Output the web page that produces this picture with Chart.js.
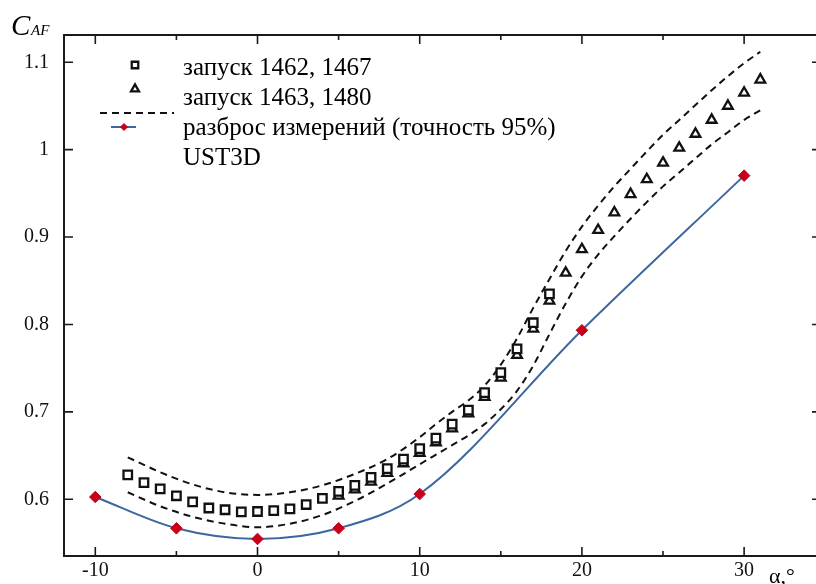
<!DOCTYPE html>
<html><head><meta charset="utf-8">
<script src="https://cdn.jsdelivr.net/npm/chart.js@4.4.1/dist/chart.umd.min.js"></script>
<style>
html,body{margin:0;padding:0;background:#fff;overflow:hidden;width:816px;height:584px}
#wrap{position:absolute;left:0;top:0;width:830px;height:584px}
</style>
</head><body><div id="wrap"><canvas id="c" width="830" height="584"></canvas></div>
<script>
// ---- data ----
const alphaSq  = [-8,-7,-6,-5,-4,-3,-2,-1,0,1,2,3,4,5,6,7,8,9,10,11,12,13,14,15,16,17,18];
const cafSq    = [0.628,0.619,0.612,0.604,0.597,0.590,0.588,0.5855,0.586,0.587,0.589,0.594,0.601,0.609,0.616,0.625,0.635,0.646,0.658,0.670,0.686,0.702,0.722,0.745,0.772,0.802,0.835];
const alphaTr  = [5,6,7,8,9,10,11,12,13,14,15,16,17,18,19,20,21,22,23,24,25,26,27,28,29,30,31];
const cafTr    = [0.604,0.611,0.620,0.630,0.641,0.653,0.665,0.681,0.698,0.717,0.739,0.765,0.795,0.827,0.859,0.886,0.908,0.928,0.949,0.966,0.985,1.002,1.018,1.034,1.050,1.065,1.080];
const alphaBand = [-8,-6,-4,-2,0,2,4,6,8,10,11,12,13,14,15,16,17,18,19,20,21,22,23,24,25,26,27,28,29,30,31];
const bandUpper = [0.648,0.631,0.617,0.608,0.605,0.608,0.616,0.629,0.646,0.671,0.686,0.700,0.713,0.730,0.754,0.784,0.819,0.852,0.884,0.912,0.936,0.958,0.978,0.998,1.017,1.034,1.051,1.068,1.084,1.099,1.112];
const bandLower = [0.608,0.592,0.580,0.572,0.568,0.572,0.582,0.598,0.618,0.640,0.651,0.662,0.673,0.686,0.703,0.724,0.753,0.789,0.824,0.855,0.880,0.901,0.921,0.940,0.958,0.974,0.990,1.006,1.020,1.034,1.045];
const alphaUst = [-10,-5,0,5,10,20,30];
const cafUst   = [0.6026,0.5668,0.5546,0.5668,0.606,0.7934,0.9703];
const xTicks = [-10,-5,0,5,10,15,20,25,30];
const xTickLabels = ['-10','','0','','10','','20','','30'];
const yTicks = [0.6,0.7,0.8,0.9,1.0,1.1];
const yTickLabels = ['0.6','0.7','0.8','0.9','1','1.1'];
const seriesLabels = ['запуск 1462, 1467','запуск 1463, 1480','разброс измерений (точность 95%)','UST3D'];

const pts = (xs, ys) => xs.map((x, i) => ({x, y: ys[i]}));
const SERIF = "'Liberation Serif','DejaVu Serif',serif";
const INK = '#1a1a1a';
const BLUE = '#3c67a0';
const RED = '#c8001a';

const decor = {
  id: 'decor',
  afterDraw(chart) {
    const ctx = chart.ctx, a = chart.chartArea;
    const xs = chart.scales.x, ys = chart.scales.y;
    ctx.save();
    // frame
    ctx.strokeStyle = INK; ctx.lineWidth = 2;
    ctx.strokeRect(a.left, a.top, a.right - a.left, a.bottom - a.top);
    // inward tick marks
    ctx.lineWidth = 1.6;
    xTicks.forEach(v => {
      const px = xs.getPixelForValue(v);
      const len = (v % 10 === 0) ? 9 : 5;
      ctx.beginPath();
      ctx.moveTo(px, a.bottom); ctx.lineTo(px, a.bottom - len);
      ctx.moveTo(px, a.top); ctx.lineTo(px, a.top + len);
      ctx.stroke();
    });
    yTicks.forEach(v => {
      const py = ys.getPixelForValue(v);
      ctx.beginPath();
      ctx.moveTo(a.left, py); ctx.lineTo(a.left + 9, py);
      ctx.moveTo(a.right, py); ctx.lineTo(a.right - 9, py);
      ctx.stroke();
    });
    // axis titles
    ctx.fillStyle = '#000';
    ctx.textBaseline = 'alphabetic'; ctx.textAlign = 'left';
    ctx.font = "italic 29px " + SERIF;
    ctx.fillText('C', 11, 35);
    ctx.font = "italic 15px " + SERIF;
    ctx.fillText('AF', 31, 35);
    ctx.font = "22px " + SERIF;
    ctx.fillText('α,°', 769, 583);
    // legend
    const ds = chart.data.datasets;
    ctx.font = "25px " + SERIF;
    ctx.fillStyle = '#000';
    const tx = 183;
    const rows = [75, 105, 135, 165];
    seriesLabels.forEach((t, i) => ctx.fillText(t, tx, rows[i]));
    [[0, 135, 65], [1, 135, 89]].forEach(([i, x, y]) => {
      const d = ds[i];
      ctx.fillStyle = d.backgroundColor; ctx.strokeStyle = d.borderColor;
      ctx.lineWidth = d.borderWidth;
      Chart.helpers.drawPoint(ctx, {pointStyle: d.pointStyle, radius: 4.6, rotation: 0, borderWidth: d.borderWidth}, x, y);
    });
    ctx.save();
    ctx.strokeStyle = ds[2].borderColor; ctx.lineWidth = ds[2].borderWidth;
    ctx.setLineDash(ds[2].borderDash);
    ctx.beginPath(); ctx.moveTo(100, 113); ctx.lineTo(174, 113); ctx.stroke();
    ctx.restore();
    ctx.strokeStyle = ds[4].borderColor; ctx.lineWidth = 2;
    ctx.beginPath(); ctx.moveTo(111, 127); ctx.lineTo(136, 127); ctx.stroke();
    ctx.fillStyle = RED; ctx.strokeStyle = RED; ctx.lineWidth = 1;
    Chart.helpers.drawPoint(ctx, {pointStyle: 'rectRot', radius: 3.5, rotation: 0, borderWidth: 1}, 124, 127);
    ctx.restore();
  }
};

new Chart(document.getElementById('c'), {
  type: 'scatter',
  data: {
    datasets: [
      { label: seriesLabels[0], data: pts(alphaSq, cafSq), showLine: false,
        pointStyle: 'rect', pointRadius: 6, borderColor: '#111', backgroundColor: '#fff', borderWidth: 2.3, order: 1 },
      { label: seriesLabels[1], data: pts(alphaTr, cafTr), showLine: false,
        pointStyle: 'triangle', pointRadius: 5.6, borderColor: '#111', backgroundColor: '#fff', borderWidth: 2.3, order: 2 },
      { label: seriesLabels[2], data: pts(alphaBand, bandUpper), showLine: true, pointRadius: 0,
        borderColor: '#111', borderWidth: 2, borderDash: [7, 5], cubicInterpolationMode: 'monotone', order: 3 },
      { label: seriesLabels[2] + ' ', data: pts(alphaBand, bandLower), showLine: true, pointRadius: 0,
        borderColor: '#111', borderWidth: 2, borderDash: [7, 5], cubicInterpolationMode: 'monotone', order: 3 },
      { label: seriesLabels[3], data: pts(alphaUst, cafUst), showLine: true,
        borderColor: BLUE, borderWidth: 2, cubicInterpolationMode: 'monotone',
        pointStyle: 'rectRot', pointRadius: 5.8, pointBackgroundColor: RED, pointBorderColor: RED, pointBorderWidth: 1, order: 0 }
    ]
  },
  options: {
    responsive: false, animation: false, devicePixelRatio: 1,
    layout: { padding: { top: 35, right: 9, left: 0, bottom: 0 } },
    plugins: { legend: { display: false }, tooltip: { enabled: false } },
    scales: {
      x: {
        type: 'linear', min: -11.93, max: 34.74,
        grid: { display: false }, border: { display: false },
        afterBuildTicks: s => { s.ticks = xTicks.map(v => ({value: v})); },
        afterFit: s => { s.height = 28; },
        ticks: { autoSkip: false, maxRotation: 0, padding: -5, color: '#111',
          font: { family: SERIF, size: 20 },
          callback: (v) => xTickLabels[xTicks.indexOf(v)] ?? '' }
      },
      y: {
        type: 'linear', min: 0.5351, max: 1.1312,
        grid: { display: false }, border: { display: false },
        afterBuildTicks: s => { s.ticks = yTicks.map(v => ({value: v})); },
        afterFit: s => { s.width = 64; },
        ticks: { autoSkip: false, padding: 7, color: '#111',
          font: { family: SERIF, size: 20 },
          callback: (v) => { const i = yTicks.findIndex(t => Math.abs(t - v) < 1e-6); return i >= 0 ? yTickLabels[i] : ''; } }
      }
    }
  },
  plugins: [decor]
});
</script>
</body></html>
